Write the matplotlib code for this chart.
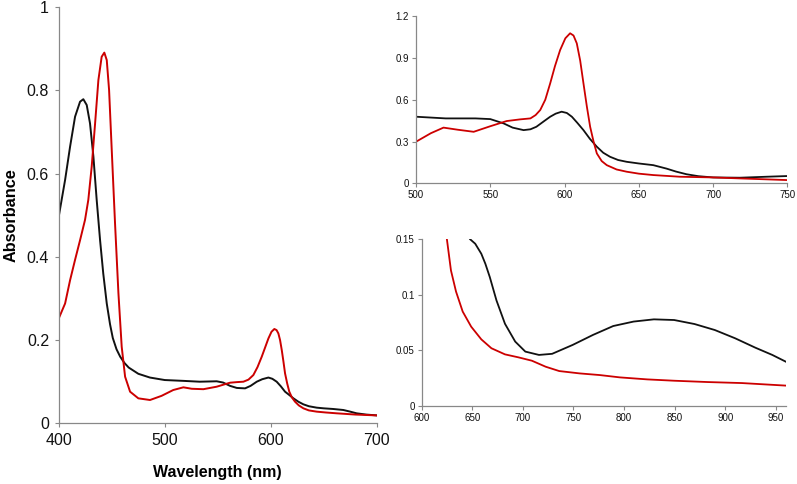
import matplotlib
matplotlib.use("Agg")
import matplotlib.pyplot as plt

plt.rcParams['font.family'] = ['Liberation Sans', 'DejaVu Sans']

# ---- Main spectrum (400-700 nm) ----
wl_black = [400, 406, 410.7, 415.4, 420.1, 423.2, 426.4, 429.5, 432.7, 435.8, 439, 442, 445.3, 448.4,
            451, 454.5, 458, 462, 466, 475.1, 486, 500, 517.6, 533, 549, 555, 561.6, 568, 575.8, 581,
            586.8, 592, 597.8, 601.5, 605.6, 609.5, 613.5, 617.5, 621.4, 626, 630.8, 636, 643.4,
            650, 659, 668.5, 675, 681, 690, 700]
abs_black = [0.497, 0.585, 0.665, 0.737, 0.773, 0.779, 0.765, 0.721, 0.641, 0.537, 0.44, 0.36, 0.288, 0.238,
             0.205, 0.178, 0.160, 0.145, 0.134, 0.119, 0.110, 0.104, 0.102, 0.100, 0.101, 0.098, 0.090, 0.085,
             0.084, 0.090, 0.100, 0.106, 0.110, 0.107, 0.100, 0.089, 0.076, 0.068, 0.060, 0.052, 0.0456, 0.041,
             0.0376, 0.036, 0.0344, 0.032, 0.028, 0.024, 0.021, 0.019]

wl_red = [400, 406, 410.7, 415.4, 420.1, 424.8, 427.9, 431.1, 434.3, 437.4, 440.5, 443, 445.3, 447.5,
          450, 453.1, 456.3, 459.4, 462.6, 467.3, 475.1, 486.1, 497, 508, 517.6, 525.5, 536.5, 549,
          561.6, 568, 574.2, 579, 583.6, 587.5, 591.5, 594.8, 597.8, 600.7, 603.4, 605.5, 607.2, 608.8,
          610.4, 612, 613.5, 615.5, 617.5, 620, 622.9, 626.5, 630.8, 636, 643.4, 652, 662.3, 680, 700]
abs_red = [0.252, 0.288, 0.344, 0.393, 0.44, 0.489, 0.537, 0.617, 0.721, 0.825, 0.881, 0.891, 0.873, 0.801,
           0.657, 0.481, 0.313, 0.184, 0.112, 0.076, 0.060, 0.056, 0.066, 0.080, 0.0865, 0.083, 0.082, 0.088,
           0.0976, 0.099, 0.100, 0.105, 0.116, 0.135, 0.160, 0.183, 0.204, 0.220, 0.2267, 0.224, 0.216, 0.200,
           0.176, 0.148, 0.120, 0.096, 0.076, 0.062, 0.052, 0.043, 0.036, 0.031, 0.028, 0.026, 0.024, 0.021, 0.019]

# ---- Inset: visible region (500-750 nm) ----
wl_vis_black = [500, 520, 540, 550, 559, 565, 572.4, 577, 581, 586, 590.3, 594, 598, 601.5, 604.9, 608.5,
                612.7, 617, 621.7, 626, 630.6, 636, 641.8, 650, 659.7, 668.7, 675, 682, 690, 700, 718,
                735.8, 750]
abs_vis_black = [0.478, 0.466, 0.466, 0.461, 0.43, 0.40, 0.382, 0.388, 0.406, 0.445, 0.478, 0.50, 0.514,
                 0.505, 0.478, 0.435, 0.382, 0.32, 0.263, 0.22, 0.191, 0.168, 0.155, 0.143, 0.131, 0.106,
                 0.085, 0.066, 0.052, 0.043, 0.041, 0.048, 0.053]

wl_vis_red = [500, 510, 518.5, 528, 538.8, 550, 561, 570, 577, 580.5, 583.6, 587, 590.3, 593.5, 597,
              600.5, 603.7, 606, 608.2, 610.5, 612.7, 615, 617.2, 619.5, 621.7, 625, 628.4, 635, 641.8,
              650, 659.7, 677.6, 700, 718, 750]
abs_vis_red = [0.299, 0.36, 0.40, 0.385, 0.37, 0.41, 0.447, 0.459, 0.466, 0.49, 0.526, 0.60, 0.717, 0.84,
               0.956, 1.04, 1.076, 1.06, 1.004, 0.88, 0.717, 0.55, 0.406, 0.30, 0.215, 0.16, 0.131, 0.10,
               0.084, 0.070, 0.060, 0.048, 0.043, 0.036, 0.024]

# ---- Inset: NIR region (600-960 nm) ----
wl_nir_black = [648, 653, 659, 663, 667.4, 674, 682.4, 692.5, 702.5, 716, 729, 749.3, 769.4, 789.4,
                809.5, 829.6, 849.6, 869.7, 889.8, 909.8, 929.9, 946.6, 962]
abs_nir_black = [0.150, 0.146, 0.137, 0.128, 0.116, 0.095, 0.074, 0.058, 0.049, 0.046, 0.047, 0.055,
                 0.064, 0.072, 0.076, 0.078, 0.0774, 0.0738, 0.0684, 0.061, 0.0525, 0.046, 0.039]

wl_nir_red = [625, 629, 634, 640.6, 649, 659, 669, 682.4, 695.8, 709, 722.6, 736, 756, 776, 796, 823,
              849.6, 883, 916.5, 962]
abs_nir_red = [0.150, 0.122, 0.103, 0.085, 0.0714, 0.060, 0.052, 0.0465, 0.0438, 0.0408, 0.0354, 0.0315,
               0.0294, 0.0279, 0.0258, 0.024, 0.0228, 0.0216, 0.0207, 0.0183]

RED = '#cc0000'
BLACK = '#111111'
SPINE = '#888888'

fig = plt.figure(figsize=(7.97, 4.84), dpi=100)


def style(ax, fs):
    for s in ['top', 'right']:
        ax.spines[s].set_visible(False)
    for s in ['left', 'bottom']:
        ax.spines[s].set_color(SPINE)
        ax.spines[s].set_linewidth(0.9)
    ax.tick_params(direction='out', length=3, width=0.8, color=SPINE, labelsize=fs,
                   labelcolor='#111111', pad=2)


ax1 = fig.add_axes([0.0737, 0.1254, 0.399, 0.8596])
ax1.plot(wl_black, abs_black, color=BLACK, lw=1.4)
ax1.plot(wl_red, abs_red, color=RED, lw=1.4)
ax1.set_xlim(400, 700)
ax1.set_ylim(0, 1)
ax1.set_xticks([400, 500, 600, 700])
ax1.set_yticks([0, 0.2, 0.4, 0.6, 0.8, 1])
ax1.set_yticklabels(['0', '0.2', '0.4', '0.6', '0.8', '1'])
style(ax1, 11.5)
ax1.tick_params(pad=4)
ax1.set_xlabel('Wavelength (nm)', fontsize=11.5, fontweight='bold', labelpad=12)
ax1.set_ylabel('Absorbance', fontsize=11.7, fontweight='bold', labelpad=6)

ax2 = fig.add_axes([0.522, 0.621, 0.466, 0.346])
ax2.plot(wl_vis_black, abs_vis_black, color=BLACK, lw=1.3)
ax2.plot(wl_vis_red, abs_vis_red, color=RED, lw=1.3)
ax2.set_xlim(500, 750)
ax2.set_ylim(0, 1.2)
ax2.set_xticks([500, 550, 600, 650, 700, 750])
ax2.set_yticks([0, 0.3, 0.6, 0.9, 1.2])
ax2.set_yticklabels(['0', '0.3', '0.6', '0.9', '1.2'])
style(ax2, 7)

ax3 = fig.add_axes([0.529, 0.161, 0.457, 0.3446])
ax3.plot(wl_nir_black, abs_nir_black, color=BLACK, lw=1.3)
ax3.plot(wl_nir_red, abs_nir_red, color=RED, lw=1.3)
ax3.set_xlim(600, 960)
ax3.set_ylim(0, 0.15)
ax3.set_xticks([600, 650, 700, 750, 800, 850, 900, 950])
ax3.set_yticks([0, 0.05, 0.1, 0.15])
ax3.set_yticklabels(['0', '0.05', '0.1', '0.15'])
style(ax3, 7)

fig.savefig('out.png', dpi=100)
